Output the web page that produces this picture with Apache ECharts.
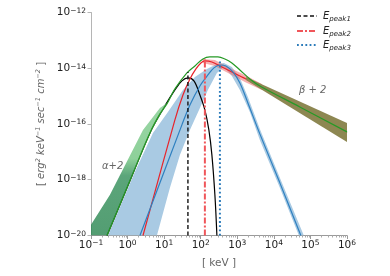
<!DOCTYPE html>
<html><head><meta charset="utf-8">
<script src="https://cdn.jsdelivr.net/npm/echarts@6/dist/echarts.min.js"></script>
<style>html,body{margin:0;padding:0;background:#fff}#c{width:390px;height:276px}</style>
</head><body><div id="c"></div>
<script>
// ---- data (E in keV, F in erg^2 keV^-1 s^-1 cm^-2) ----
const blackE = [0.274, 1.16, 4.09, 10.5, 19.7, 30.6, 44.7, 65.2, 95.1, 130, 167, 202, 244, 277];
const blackF = [1e-20, 9.14e-19, 4.80e-17, 4.46e-16, 1.67e-15, 3.51e-15, 4.49e-15, 3.51e-15, 1.10e-15, 3.20e-16, 6.15e-17, 7.80e-18, 2.88e-19, 1e-20];

const greenE = [0.274, 1.16, 4.09, 7.67, 11.9, 19.7, 42.0, 69.5, 115, 178, 295, 458, 711, 1178, 2208, 4140, 51300, 1e6];
const greenF = [1e-20, 9.14e-19, 4.80e-17, 2.30e-16, 5.25e-16, 1.81e-15, 6.79e-15, 1.21e-14, 2.15e-14, 2.54e-14, 2.54e-14, 2.15e-14, 1.55e-14, 8.69e-15, 4.13e-15, 2.32e-15, 4.10e-16, 5.21e-17];

const redE = [2.64, 19.7, 32.7, 50.7, 74.0, 101, 130, 202, 335, 628, 1178, 2208, 4140, 1e6];
const redF = [1e-20, 1.40e-16, 1.10e-15, 4.13e-15, 9.44e-15, 1.55e-14, 1.83e-14, 1.68e-14, 1.21e-14, 8.0e-15, 5.30e-15, 3.51e-15, 2.14e-15, 4.80e-17];

const blueE = [2.18, 30.6, 50.7, 95.1, 157, 230, 335, 489, 758, 1178, 1950, 4140, 14590, 54700];
const blueF = [1e-20, 9.29e-17, 4.84e-16, 2.32e-15, 5.75e-15, 1.03e-14, 1.31e-14, 1.21e-14, 7.36e-15, 2.97e-15, 5.70e-16, 4.42e-17, 7.74e-19, 1e-20];

const blueBandUpE = [0.291, 1.59, 4.94, 12.7, 32.7, 69.5, 148, 277, 431, 711, 1178, 1950, 4140, 14590, 66100];
const blueBandUpF = [1e-20, 1.92e-18, 4.80e-17, 2.72e-16, 1.67e-15, 4.88e-15, 9.44e-15, 1.43e-14, 1.55e-14, 1.11e-14, 4.49e-15, 9.35e-16, 6.67e-17, 1.17e-18, 1e-20];
const blueBandLoE = [6.35, 14.4, 27.0, 50.7, 95.1, 157, 277, 431, 711, 1178, 2208, 4140, 14590, 48200];
const blueBandLoF = [1e-20, 5.13e-19, 7.80e-18, 6.15e-17, 3.78e-16, 1.67e-15, 6.79e-15, 1.11e-14, 5.30e-15, 1.67e-15, 2.72e-16, 2.69e-17, 5.13e-19, 1e-20];

const alphaBandUpE = [0.1, 0.330, 2.64, 7.67, 11.9];
const alphaBandUpF = [2.42e-20, 2.88e-19, 6.15e-17, 3.78e-16, 5.70e-16];
const alphaBandLoE = [0.1, 0.274, 1.16, 4.09, 11.9];
const alphaBandLoF = [1e-20, 1e-20, 9.14e-19, 4.80e-17, 5.70e-16];

const betaBandUpE = [1718, 1e6];
const betaBandUpF = [4.88e-15, 1.09e-16];
const betaBandLoE = [1718, 1e6];
const betaBandLoF = [3.81e-15, 2.28e-17];

const redBandUpE = [115, 244, 628, 1614, 4700];
const redBandUpF = [2.15e-14, 1.98e-14, 1.03e-14, 5.75e-15, 2.74e-15];
const redBandLoE = [115, 244, 628, 1614, 4700];
const redBandLoF = [1.55e-14, 1.21e-14, 6.25e-15, 3.23e-15, 1.67e-15];

const peakNames = ['Epeak1', 'Epeak2', 'Epeak3'];
const peakSubs = ['peak1', 'peak2', 'peak3'];
const peakE = [44.7, 130, 335];
const peakTopF = [7.36e-15, 2.15e-14, 2.15e-14];
const axisFloor = 1e-20;

const xTicks = [0.1, 1, 10, 100, 1e3, 1e4, 1e5, 1e6];
const yTicks = [1e-20, 1e-18, 1e-16, 1e-14, 1e-12];

// ---- build ----
function pairs(E, F) { return E.map((e, i) => [e, F[i]]); }
function poly(uE, uF, lE, lF) { return pairs(uE, uF).concat(pairs(lE, lF).reverse()); }
function band(pts, fill, z) {
  return {
    type: 'custom', coordinateSystem: 'cartesian2d', silent: true, clip: true, z: z,
    data: [[1, 1e-16]],
    renderItem: function (params, api) {
      return { type: 'polygon', shape: { points: pts.map(p => api.coord(p)) }, style: { fill: fill } };
    }
  };
}
function curve(E, F, color, z, width) {
  return { type: 'line', data: pairs(E, F), symbol: 'none', showSymbol: false, smooth: 0.35, z: z, silent: true,
    lineStyle: { color: color, width: width || 1.2 } };
}
function supFmt(v) {
  const e = Math.round(Math.log10(v));
  return '10{s|' + (e < 0 ? '\u2212' + (-e) : e) + '}';
}
const peakStyles = [
  { color: '#111', type: [4, 2.5], width: 1.4 },
  { color: '#f0565a', type: [6, 2, 2, 2], width: 2 },
  { color: '#2b7bba', type: [1.8, 2.4], width: 2 }
];

const series = [
  band(poly(blueBandUpE, blueBandUpF, blueBandLoE, blueBandLoF), '#a9cae3', 1),
  curve(blackE, blackF, '#000', 2),
  band(poly(alphaBandUpE, alphaBandUpF, alphaBandLoE, alphaBandLoF),
    new echarts.graphic.LinearGradient(0, 0, 0, 1, [
      { offset: 0, color: 'rgba(120,200,135,0.75)' },
      { offset: 0.42, color: 'rgba(110,195,125,0.78)' },
      { offset: 0.55, color: 'rgba(45,140,85,0.78)' },
      { offset: 1, color: 'rgba(35,130,75,0.78)' }]), 3),
  band(poly(redBandUpE, redBandUpF, redBandLoE, redBandLoF), 'rgba(240,110,110,0.55)', 4),
  curve(redE, redF, '#e8232a', 5),
  curve(blueE, blueF, '#2f80c0', 5),
  band(poly(betaBandUpE, betaBandUpF, betaBandLoE, betaBandLoF), '#8d8752', 6),
  curve(greenE, greenF, '#269a26', 7)
];
peakE.forEach((e, i) => {
  series.push({ type: 'line', name: peakNames[i], data: [[e, axisFloor], [e, peakTopF[i]]], symbol: 'none',
    z: 8, silent: true, lineStyle: peakStyles[i] });
});

// legend drawn as graphic (line sample + rich text)
const legendRich = {
  e: { fontSize: 10, fontStyle: 'italic', fill: '#222', fontFamily: 'DejaVu Sans', lineHeight: 13 },
  s: { fontSize: 7, fontStyle: 'italic', fill: '#222', fontFamily: 'DejaVu Sans', verticalAlign: 'bottom', lineHeight: 9 }
};
const legendRowsY = [16, 31, 45];
const legendGraphics = [];
peakNames.forEach((n, i) => {
  const yc = legendRowsY[i];
  legendGraphics.push({ type: 'line', silent: true, z: 100,
    shape: { x1: 297, y1: yc, x2: 317, y2: yc },
    style: { stroke: peakStyles[i].color, lineWidth: peakStyles[i].width, lineDash: peakStyles[i].type } });
  legendGraphics.push({ type: 'text', silent: true, z: 100, x: 323, y: yc,
    style: { text: '{e|E}{s|' + peakSubs[i] + '}', rich: legendRich, verticalAlign: 'middle' } });
});

const chart = echarts.init(document.getElementById('c'));
chart.setOption({
  animation: false,
  backgroundColor: '#fff',
  grid: { left: 91, right: 43, top: 12.5, bottom: 40.5 },
  xAxis: {
    type: 'log', logBase: 10, min: 0.1, max: 1e6,
    name: '[ keV ]', nameLocation: 'middle', nameGap: 22,
    nameTextStyle: { color: '#666', fontSize: 10.5, fontFamily: 'DejaVu Sans' },
    axisLine: { lineStyle: { color: '#9a9a9a', width: 1 } },
    axisTick: { show: true, length: 3.5, customValues: xTicks, lineStyle: { color: '#9a9a9a' } },
    minorTick: { show: true, splitNumber: 9, length: 2, lineStyle: { color: '#aaa' } },
    splitLine: { show: false },
    axisLabel: { formatter: supFmt, customValues: xTicks, color: '#222', fontSize: 10.5, fontFamily: 'DejaVu Sans', margin: 4,
      rich: { s: { fontSize: 7.5, verticalAlign: 'top', color: '#222', fontFamily: 'DejaVu Sans', lineHeight: 8 } } }
  },
  yAxis: {
    type: 'log', logBase: 10, min: 1e-20, max: 1e-12,
    name: '[ {i|erg}{p|2} {i|keV}{p|\u22121} {i|sec}{p|\u22121} {i|cm}{p|\u22122} ]',
    nameLocation: 'middle', nameGap: 43, nameRotate: 90,
    nameTextStyle: { color: '#666', fontSize: 10, fontFamily: 'DejaVu Sans', rich: {
      i: { fontStyle: 'italic', color: '#666', fontSize: 10, fontFamily: 'DejaVu Sans', lineHeight: 13 },
      p: { fontStyle: 'italic', color: '#666', fontSize: 6.5, fontFamily: 'DejaVu Sans', verticalAlign: 'top', lineHeight: 8 } } },
    axisLine: { show: true, lineStyle: { color: '#b5b5b5', width: 1 } },
    axisTick: { show: true, length: 3.5, customValues: yTicks, lineStyle: { color: '#b5b5b5' } },
    splitLine: { show: false },
    axisLabel: { formatter: supFmt, customValues: yTicks, color: '#222', fontSize: 10.5, fontFamily: 'DejaVu Sans', margin: 5,
      rich: { s: { fontSize: 7.5, verticalAlign: 'top', color: '#222', fontFamily: 'DejaVu Sans', lineHeight: 8 } } }
  },
  graphic: [
    { type: 'text', left: 102, top: 161, silent: true,
      style: { text: '\u03b1+2', fill: '#666', fontSize: 10, fontStyle: 'italic', fontFamily: 'DejaVu Sans' } },
    { type: 'text', left: 299, top: 85, silent: true,
      style: { text: '\u03b2 + 2', fill: '#666', fontSize: 10, fontStyle: 'italic', fontFamily: 'DejaVu Sans' } }
  ].concat(legendGraphics),
  series: series
});
</script>
</body></html>
